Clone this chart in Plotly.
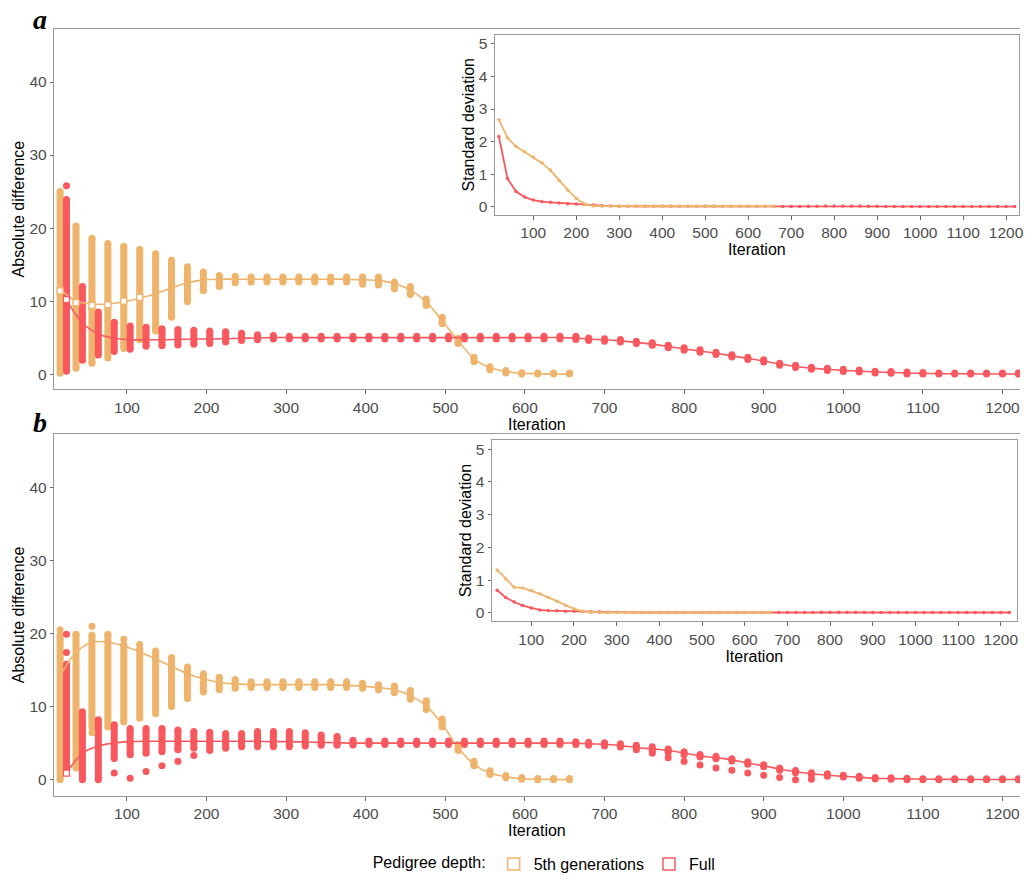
import plotly.graph_objects as go

# ---------------- data ----------------
ITER_FULL = [20, 40, 60, 80, 100, 120, 140, 160, 180, 200, 220, 240, 260, 280, 300, 320, 340, 360, 380, 400,
             420, 440, 460, 480, 500, 520, 540, 560, 580, 600, 620, 640, 660, 680, 700, 720, 740, 760, 780, 800,
             820, 840, 860, 880, 900, 920, 940, 960, 980, 1000, 1020, 1040, 1060, 1080, 1100, 1120, 1140, 1160,
             1180, 1200, 1220]
ITER_5TH = [20, 40, 60, 80, 100, 120, 140, 160, 180, 200, 220, 240, 260, 280, 300, 320, 340, 360, 380, 400,
            420, 440, 460, 480, 500, 520, 540, 560, 580, 600, 620, 640, 660]

# Panel a - 5th generations
a5_lo = [0.1, 0.8, 1.5, 2.2, 3.5, 4.7, 5.9, 7.8, 9.9, 11.4, 12.0, 12.5, 12.6, 12.6, 12.6, 12.6, 12.6, 12.6, 12.6,
         12.3, 12.2, 11.7, 10.9, 9.4, 6.9, 4.2, 1.7, 0.6, 0.15, 0.0, 0.0, 0.0, 0.0]
a5_hi = [25.0, 20.3, 18.6, 17.9, 17.5, 17.1, 16.5, 15.6, 14.7, 14.0, 13.5, 13.4, 13.3, 13.3, 13.3, 13.3, 13.3,
         13.3, 13.3, 13.3, 13.3, 12.6, 12.0, 10.3, 7.8, 4.9, 2.3, 1.0, 0.5, 0.2, 0.15, 0.15, 0.15]
a5_trend = [11.6, 10.0, 9.6, 9.6, 9.9, 10.4, 11.0, 11.8, 12.5, 12.9, 13.0, 13.0, 13.0, 13.0, 13.0, 13.0, 13.0,
            13.0, 13.0, 12.9, 12.8, 12.4, 11.5, 9.9, 7.3, 4.6, 2.1, 0.9, 0.35, 0.12, 0.05, 0.02, 0.0]
a5_box_x = [20, 40, 60, 80, 100, 120]
a5_box_y = [11.4, 9.8, 9.4, 9.5, 10.0, 10.5]
a5_out_x = []
a5_out_y = []

# Panel a - Full
aF_lo = [0.4, 1.9, 2.6, 3.1, 3.4, 3.8, 3.9, 4.0, 4.1, 4.2, 4.4, 4.6, 4.7, 4.8, 4.8, 4.8, 4.8, 4.8, 4.8, 4.8,
         4.8, 4.8, 4.8, 4.8, 4.8, 4.8, 4.8, 4.8, 4.8, 4.8, 4.8, 4.8, 4.75, 4.6, 4.5, 4.4, 4.2, 3.95, 3.6, 3.25,
         3.0, 2.7, 2.35, 2.0, 1.65, 1.2, 0.9, 0.65, 0.5, 0.35, 0.28, 0.15, 0.1, 0.02, 0.0, 0.0, 0.0, 0.0,
         0.0, 0.0, 0.0]
aF_hi = [23.9, 12.0, 8.5, 7.1, 6.6, 6.4, 6.2, 6.1, 6.0, 5.9, 5.8, 5.6, 5.4, 5.3, 5.2, 5.2, 5.2, 5.2, 5.2, 5.2,
         5.2, 5.2, 5.2, 5.2, 5.2, 5.2, 5.2, 5.2, 5.2, 5.2, 5.2, 5.2, 5.2, 4.95, 4.85, 4.75, 4.5, 4.3, 3.95, 3.6,
         3.35, 3.0, 2.65, 2.3, 1.95, 1.5, 1.2, 0.95, 0.8, 0.65, 0.55, 0.4, 0.35, 0.28, 0.22, 0.15, 0.15, 0.15,
         0.15, 0.15, 0.15]
aF_trend = [10.2, 7.0, 5.5, 4.9, 4.7, 4.7, 4.7, 4.75, 4.8, 4.8, 4.85, 4.9, 4.95, 5.0, 5.0, 5.0, 5.0, 5.0, 5.0,
            5.0, 5.0, 5.0, 5.0, 5.0, 5.0, 5.0, 5.0, 5.0, 5.0, 5.0, 5.0, 5.0, 4.95, 4.8, 4.7, 4.55, 4.35, 4.1,
            3.78, 3.44, 3.17, 2.85, 2.5, 2.15, 1.8, 1.38, 1.05, 0.82, 0.65, 0.5, 0.41, 0.28, 0.23, 0.15, 0.1,
            0.06, 0.05, 0.03, 0.02, 0.02, 0.02]
aF_box_x = [20]
aF_box_y = [10.2]
aF_out_x = [20]
aF_out_y = [25.8]

# Panel b - 5th generations
b5_lo = [0.0, 1.6, 7.2, 7.2, 7.9, 8.4, 9.0, 10.0, 11.1, 12.0, 12.3, 12.5, 12.6, 12.6, 12.6, 12.6, 12.6, 12.6,
         12.6, 12.5, 12.3, 11.9, 11.0, 9.6, 7.2, 4.0, 1.9, 0.7, 0.25, 0.05, 0.0, 0.0, 0.0]
b5_hi = [19.8, 19.9, 19.8, 19.9, 18.5, 17.9, 17.6, 16.7, 15.4, 14.5, 14.0, 13.7, 13.4, 13.4, 13.4, 13.4, 13.4,
         13.4, 13.4, 13.2, 13.0, 12.8, 12.2, 10.8, 8.3, 4.8, 2.5, 1.2, 0.55, 0.3, 0.15, 0.15, 0.15]
b5_trend = [14.2, 17.4, 18.8, 18.8, 18.3, 17.5, 16.5, 15.5, 14.5, 13.8, 13.3, 13.1, 13.0, 13.0, 13.0, 13.0, 13.0,
            13.0, 12.9, 12.8, 12.6, 12.3, 11.5, 10.1, 7.6, 4.4, 2.1, 0.9, 0.4, 0.12, 0.05, 0.02, 0.0]
b5_box_x = []
b5_box_y = []
b5_out_x = [20, 60, 60, 100, 120]
b5_out_y = [20.5, 21.0, 6.4, 19.2, 18.5]

# Panel b - Full
bF_lo = [1.5, 0.0, 0.0, 2.9, 3.4, 3.6, 3.8, 4.1, 4.3, 4.0, 4.3, 4.5, 4.5, 4.5, 4.5, 4.6, 4.7, 4.7, 4.75, 4.8,
         4.8, 4.8, 4.8, 4.8, 4.8, 4.8, 4.8, 4.8, 4.8, 4.8, 4.8, 4.8, 4.8, 4.7, 4.6, 4.45, 4.1, 3.9, 3.7, 3.4,
         3.1, 2.85, 2.55, 2.1, 1.75, 1.3, 0.95, 0.65, 0.45, 0.35, 0.2, 0.1, 0.05, 0.0, 0.0, 0.0, 0.0, 0.0,
         0.0, 0.0, 0.0]
bF_hi = [15.8, 9.3, 8.2, 7.5, 7.0, 7.0, 7.0, 6.8, 6.6, 6.5, 6.3, 6.3, 6.6, 6.6, 6.6, 6.4, 6.1, 5.9, 5.4, 5.3,
         5.3, 5.3, 5.3, 5.3, 5.3, 5.3, 5.3, 5.3, 5.3, 5.3, 5.3, 5.3, 5.2, 5.1, 5.05, 4.9, 4.7, 4.5, 4.2, 3.8,
         3.45, 3.2, 2.85, 2.45, 2.05, 1.6, 1.25, 0.95, 0.8, 0.6, 0.45, 0.3, 0.25, 0.2, 0.12, 0.12, 0.12, 0.12,
         0.12, 0.12, 0.12]
bF_trend = [0.9, 3.6, 4.6, 5.0, 5.2, 5.25, 5.25, 5.25, 5.25, 5.25, 5.25, 5.25, 5.25, 5.2, 5.2, 5.15, 5.1, 5.05,
            5.0, 5.0, 5.0, 5.0, 5.0, 5.0, 5.0, 5.0, 5.0, 5.0, 5.0, 5.0, 5.0, 5.0, 5.0, 4.9, 4.84, 4.66, 4.4,
            4.2, 3.98, 3.65, 3.25, 3.0, 2.7, 2.28, 1.9, 1.45, 1.08, 0.8, 0.6, 0.46, 0.32, 0.18, 0.14, 0.1, 0.06,
            0.04, 0.03, 0.02, 0.02, 0.02, 0.02]
bF_box_x = [20]
bF_box_y = [0.9]
bF_out_x = [20, 20, 80, 100, 120, 140, 160, 180, 760, 780, 800, 820, 840, 860, 880, 900, 920, 940, 960]
bF_out_y = [19.9, 17.4, 0.9, 0.2, 1.1, 1.9, 2.5, 3.3, 3.6, 3.0, 2.5, 2.0, 1.6, 1.3, 0.9, 0.6, 0.3, 0.0, 0.05]

# Inset standard deviations
sd_a5 = [2.67, 2.12, 1.85, 1.69, 1.53, 1.35, 1.12, 0.82, 0.52, 0.26, 0.08, 0.03, 0.02, 0.02, 0.02, 0.02, 0.02,
         0.02, 0.02, 0.02, 0.02, 0.02, 0.02, 0.02, 0.02, 0.02, 0.02, 0.02, 0.02, 0.02, 0.02, 0.02, 0.02]
sd_aF = [2.16, 0.87, 0.47, 0.30, 0.21, 0.16, 0.14, 0.12, 0.10, 0.09, 0.07, 0.06, 0.04, 0.03, 0.02, 0.02, 0.02,
         0.02, 0.02, 0.02, 0.02, 0.02, 0.02, 0.02, 0.02, 0.02, 0.01, 0.01, 0.01, 0.01, 0.01, 0.01, 0.01, 0.01,
         0.01, 0.01, 0.02, 0.02, 0.03, 0.03, 0.03, 0.03, 0.03, 0.02, 0.02, 0.01, 0.01, 0.01, 0.01, 0.01, 0.01,
         0.01, 0.01, 0.01, 0.01, 0.01, 0.01, 0.01, 0.01, 0.01, 0.01]
sd_b5 = [1.31, 1.04, 0.78, 0.76, 0.68, 0.58, 0.47, 0.35, 0.22, 0.12, 0.05, 0.02, 0.01, 0.01, 0.01, 0.01, 0.01,
         0.01, 0.01, 0.01, 0.01, 0.01, 0.01, 0.01, 0.01, 0.01, 0.01, 0.01, 0.01, 0.01, 0.01, 0.01, 0.01]
sd_bF = [0.69, 0.47, 0.33, 0.22, 0.15, 0.09, 0.07, 0.06, 0.05, 0.05, 0.04, 0.03, 0.03, 0.02, 0.02, 0.01, 0.01,
         0.01, 0.01, 0.01, 0.01, 0.01, 0.01, 0.01, 0.01, 0.01, 0.01, 0.01, 0.01, 0.01, 0.01, 0.01, 0.01, 0.01,
         0.01, 0.01, 0.01, 0.01, 0.02, 0.02, 0.02, 0.02, 0.02, 0.01, 0.01, 0.01, 0.01, 0.01, 0.01, 0.01, 0.01,
         0.01, 0.01, 0.01, 0.01, 0.01, 0.01, 0.01, 0.01, 0.01, 0.01]

X_TICKS = [100, 200, 300, 400, 500, 600, 700, 800, 900, 1000, 1100, 1200]
Y_TICKS_MAIN = [0, 10, 20, 30, 40]
Y_TICKS_SD = [0, 1, 2, 3, 4, 5]

# ---------------- style ----------------
ORANGE = "#EFB46C"
RED = "#F8585E"
FONT = "Liberation Sans, Arial, sans-serif"
TICK_C = "#4D4D4D"
LINE_C = "#9A9A9A"
DODGE = 4
W, H = 1025, 881
TICK_SIZE = 15.5
TITLE_SIZE = 16

both = set(ITER_5TH)


def dodge(xs, sign):
    return [x + sign * DODGE if x in both else x for x in xs]


def bar_xy(xs, lo, hi):
    bx, by = [], []
    for x, l, h in zip(xs, lo, hi):
        bx += [x, x, None]
        by += [l, h, None]
    return bx, by


fig = go.Figure()


def main_panel(xa, ya, lo5, hi5, tr5, bx5, by5, ox5, oy5, loF, hiF, trF, bxF, byF, oxF, oyF):
    x5 = dodge(ITER_5TH, -1)
    xF = dodge(ITER_FULL, +1)
    for xs, lo, hi, col in [(x5, lo5, hi5, ORANGE), (xF, loF, hiF, RED)]:
        bx, by = bar_xy(xs, lo, hi)
        fig.add_trace(go.Scatter(x=bx, y=by, mode="lines+markers", xaxis=xa, yaxis=ya,
                                 line=dict(color=col, width=7), marker=dict(color=col, size=7),
                                 showlegend=False, hoverinfo="skip"))
    for ox, oy, sign, col in [(ox5, oy5, -1, ORANGE), (oxF, oyF, 1, RED)]:
        if ox:
            fig.add_trace(go.Scatter(x=dodge(ox, sign), y=oy, mode="markers", xaxis=xa, yaxis=ya,
                                     marker=dict(color=col, size=7), showlegend=False, hoverinfo="skip"))
    for xs, tr, col in [(x5, tr5, ORANGE), (xF, trF, RED)]:
        fig.add_trace(go.Scatter(x=xs, y=tr, mode="lines", xaxis=xa, yaxis=ya, line_shape="spline",
                                 line=dict(color=col, width=1.6), showlegend=False, hoverinfo="skip"))
    for bxs, bys, sign, col in [(bx5, by5, -1, ORANGE), (bxF, byF, 1, RED)]:
        if bxs:
            fig.add_trace(go.Scatter(x=dodge(bxs, sign), y=bys, mode="markers", xaxis=xa, yaxis=ya,
                                     marker=dict(symbol="square", size=6, color="white",
                                                 line=dict(color=col, width=1.3)),
                                     showlegend=False, hoverinfo="skip"))


def inset(xa, ya, sd5, sdF):
    for xs, sd, col in [(ITER_FULL, sdF, RED), (ITER_5TH, sd5, ORANGE)]:
        fig.add_trace(go.Scatter(x=xs, y=sd, mode="lines+markers", xaxis=xa, yaxis=ya,
                                 line=dict(color=col, width=1.8), marker=dict(color=col, size=3.5),
                                 showlegend=False, hoverinfo="skip"))


main_panel("x", "y", a5_lo, a5_hi, a5_trend, a5_box_x, a5_box_y, a5_out_x, a5_out_y,
           aF_lo, aF_hi, aF_trend, aF_box_x, aF_box_y, aF_out_x, aF_out_y)
inset("x2", "y2", sd_a5, sd_aF)
main_panel("x3", "y3", b5_lo, b5_hi, b5_trend, b5_box_x, b5_box_y, b5_out_x, b5_out_y,
           bF_lo, bF_hi, bF_trend, bF_box_x, bF_box_y, bF_out_x, bF_out_y)
inset("x4", "y4", sd_b5, sd_bF)

# legend-only box traces
for name, col in [("5th generations", ORANGE), ("Full", RED)]:
    fig.add_trace(go.Box(y=[None], x=[None], name=name, xaxis="x", yaxis="y",
                         marker_color=col, line=dict(color=col, width=1.5), fillcolor="white",
                         showlegend=True))


def xax(domain, rng):
    return dict(domain=domain, range=rng, tickvals=X_TICKS, showline=True, mirror=True,
                linecolor=LINE_C, linewidth=1, ticks="outside", ticklen=4, tickcolor="#666",
                tickfont=dict(size=TICK_SIZE, color=TICK_C, family=FONT), showgrid=False, zeroline=False,
                ticklabeloverflow="allow",
                title=dict(text="Iteration", font=dict(size=TITLE_SIZE, color="black", family=FONT), standoff=0))


def yax(domain, rng, ticks, title, mirror):
    return dict(domain=domain, range=rng, tickvals=ticks, showline=True, mirror=mirror,
                linecolor=LINE_C, linewidth=1, ticks="outside", ticklen=3, tickcolor="#666",
                tickfont=dict(size=TICK_SIZE, color=TICK_C, family=FONT), showgrid=False, zeroline=False,
                title=dict(text=title, font=dict(size=TITLE_SIZE, color="black", family=FONT), standoff=0))


LETTER_FONT = dict(size=28, family="Liberation Serif, Times New Roman, serif", color="black")

fig.update_layout(
    width=W, height=H, margin=dict(l=0, r=0, t=0, b=0),
    paper_bgcolor="white", plot_bgcolor="white",
    font=dict(family=FONT),
    xaxis=dict(xax([54 / W, 1.0], [8, 1222]), anchor="y"),
    yaxis=dict(yax([1 - 393 / H, 1 - 29 / H], [-2.1, 47.3], Y_TICKS_MAIN, "Absolute difference", False),
               anchor="x"),
    xaxis2=dict(xax([497 / W, 1024 / W], [10, 1230]), anchor="y2"),
    yaxis2=dict(yax([1 - 216.7 / H, 1 - 35 / H], [-0.24, 5.28], Y_TICKS_SD, "Standard deviation", True),
                anchor="x2"),
    xaxis3=dict(xax([54 / W, 1.0], [8, 1222]), anchor="y3"),
    yaxis3=dict(yax([1 - 803 / H, 1 - 438 / H], [-2.2, 47.3], Y_TICKS_MAIN, "Absolute difference", False),
                anchor="x3"),
    xaxis4=dict(xax([494 / W, 1022 / W], [7, 1238]), anchor="y4"),
    yaxis4=dict(yax([1 - 626.7 / H, 1 - 444.3 / H], [-0.25, 5.27], Y_TICKS_SD, "Standard deviation", True),
                anchor="x4"),
    legend=dict(orientation="h", x=0.535, xanchor="center", y=1 - 872 / H, yanchor="middle",
                font=dict(size=TITLE_SIZE, color="black", family=FONT),
                title=dict(text="Pedigree depth:", side="left",
                           font=dict(size=TITLE_SIZE, color="black", family=FONT)),
                itemwidth=30, bgcolor="rgba(0,0,0,0)"),
    annotations=[
        dict(text="<b><i>a</i></b>", x=40 / W, y=1 - 20 / H, xref="paper", yref="paper", showarrow=False,
             xanchor="center", yanchor="middle", font=LETTER_FONT),
        dict(text="<b><i>b</i></b>", x=40 / W, y=1 - 426 / H, xref="paper", yref="paper", showarrow=False,
             xanchor="center", yanchor="middle", font=LETTER_FONT),
    ],
)

fig.write_html("out.html")
